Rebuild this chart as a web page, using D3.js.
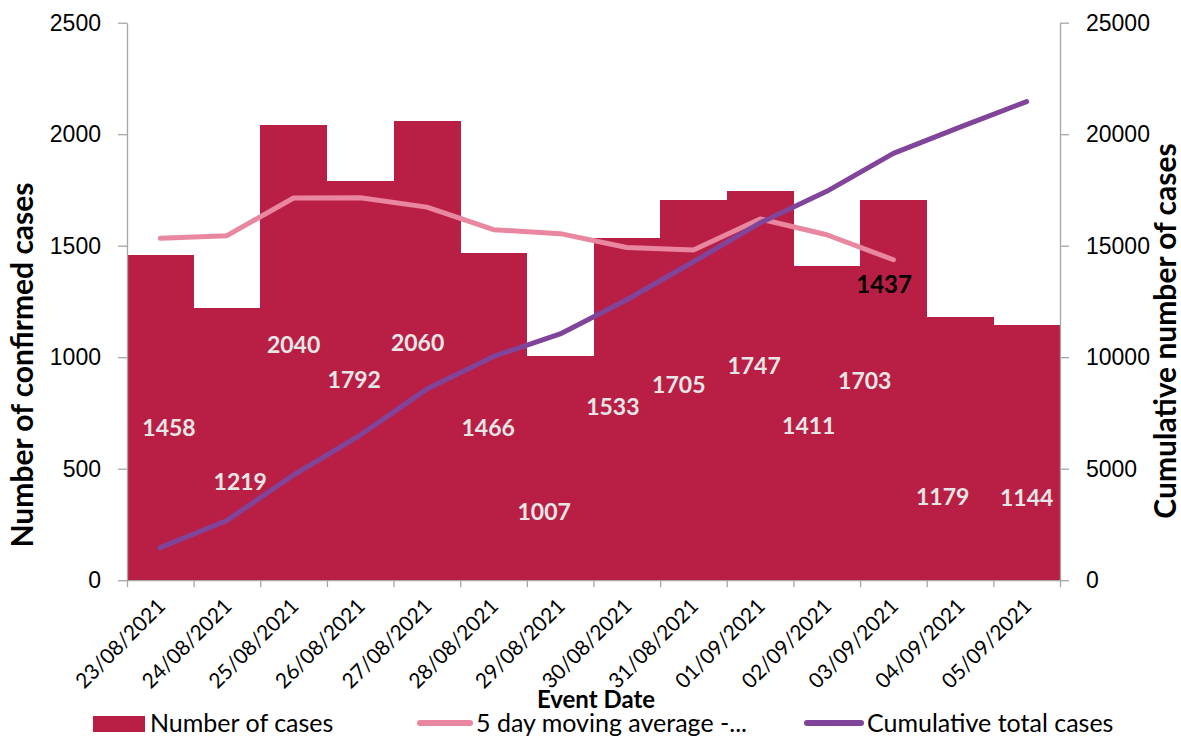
<!DOCTYPE html>
<html>
<head>
<meta charset="utf-8">
<script src="https://cdn.jsdelivr.net/npm/d3@7/dist/d3.min.js"></script>
<style>
  html, body { margin: 0; padding: 0; background: #fff; }
  svg { display: block; font-family: Lato, "Open Sans", sans-serif; }
  .axis path, .axis line { stroke: #a6a6a6; stroke-width: 1.3; }
  .axis text { fill: #000; font-size: 23px; }
</style>
</head>
<body>
<div id="chart"></div>
<script>
// categories and series
const dates = ['23/08/2021','24/08/2021','25/08/2021','26/08/2021','27/08/2021','28/08/2021','29/08/2021',
               '30/08/2021','31/08/2021','01/09/2021','02/09/2021','03/09/2021','04/09/2021','05/09/2021'];
const cases = [1458, 1219, 2040, 1792, 2060, 1466, 1007, 1533, 1705, 1747, 1411, 1703, 1179, 1144];
const movingAvg = [1533, 1545, 1714, 1715, 1673, 1572, 1554, 1492, 1481, 1620, 1549, 1437];
const cumulative = [1458, 2677, 4717, 6509, 8569, 10035, 11042, 12575, 14280, 16027, 17438, 19141, 20320, 21464];
const leftTicks = [0, 500, 1000, 1500, 2000, 2500];
const rightTicks = [0, 5000, 10000, 15000, 20000, 25000];

// where excel had the data labels dragged to (left axis units, fraction of band)
const labelLevel = [682, 440, 1055, 898, 1064, 682, 307, 777, 876, 961, 691, 893, 373, 368];
const labelShift = [0.13, 0.2, 0, -0.09, -0.14, -0.08, -0.24, -0.21, -0.22, -0.09, -0.27, -0.43, -0.26, 0];

// layout
const width = 1181, height = 739;
const margin = {t: 22.7, r: 121, b: 158.8, l: 127};
const w = width - margin.l - margin.r;
const h = height - margin.t - margin.b;

const colors = {bar: '#b91f45', avg: '#e8879f', cum: '#80449a', label: '#e6e6e6'};

const svg = d3.select('#chart').append('svg')
    .attr('width', width)
    .attr('height', height);

const plot = svg.append('g')
    .attr('transform', `translate(${margin.l},${margin.t})`);

// scales
const scaleX = d3.scaleBand().domain(dates).range([0, w]).padding(0);
const scaleIdx = d3.scaleLinear().domain([0, dates.length]).range([0, w]);
const scaleY = d3.scaleLinear().domain([0, 2500]).range([h, 0]);
const scaleY2 = d3.scaleLinear().domain([0, 25000]).range([h, 0]);
const cx = (d, i) => scaleX(dates[i]) + scaleX.bandwidth() / 2;

// bars (no gap, so crisp edges to avoid seams)
plot.selectAll('.bar')
    .data(cases)
    .enter()
    .append('rect')
    .attr('class', 'bar')
    .attr('x', (d, i) => scaleX(dates[i]))
    .attr('width', scaleX.bandwidth() + 0.5)
    .attr('y', d => scaleY(d))
    .attr('height', d => h - scaleY(d))
    .attr('shape-rendering', 'crispEdges')
    .style('fill', colors.bar);

// axes
const axisY = d3.axisLeft(scaleY).tickValues(leftTicks).tickSize(9).tickSizeOuter(0).tickPadding(17).tickFormat(d3.format('d'));
const axisY2 = d3.axisRight(scaleY2).tickValues(rightTicks).tickSize(9).tickSizeOuter(0).tickPadding(17).tickFormat(d3.format('d'));
const axisXTicks = d3.axisBottom(scaleIdx).tickValues(d3.range(dates.length + 1)).tickSize(7).tickSizeOuter(0).tickFormat('');

plot.append('g').attr('class', 'axis axis-x').attr('transform', `translate(0,${h})`).call(axisXTicks);
plot.append('g').attr('class', 'axis axis-y').call(axisY);
plot.append('g').attr('class', 'axis axis-y2').attr('transform', `translate(${w},0)`).call(axisY2);

// rotated date labels
plot.append('g')
    .selectAll('text')
    .data(dates)
    .enter()
    .append('text')
    .attr('transform', (d, i) => `translate(${cx(d, i) + 1},${h + 22}) rotate(-45)`)
    .attr('text-anchor', 'end')
    .attr('dy', '0.35em')
    .style('font-size', '21px')
    .text(d => d);

// lines
const lineAvg = d3.line()
    .x((d, i) => cx(d, i))
    .y(d => scaleY(d));
const lineCum = d3.line()
    .x((d, i) => cx(d, i))
    .y(d => scaleY2(d));

plot.append('path')
    .datum(movingAvg)
    .attr('d', lineAvg)
    .style('fill', 'none')
    .style('stroke', colors.avg)
    .style('stroke-width', 5)
    .style('stroke-linecap', 'round')
    .style('stroke-linejoin', 'round');

plot.append('path')
    .datum(cumulative)
    .attr('d', lineCum)
    .style('fill', 'none')
    .style('stroke', colors.cum)
    .style('stroke-width', 5)
    .style('stroke-linecap', 'round')
    .style('stroke-linejoin', 'round');

// data labels
plot.append('g')
    .selectAll('text')
    .data(cases)
    .enter()
    .append('text')
    .attr('x', (d, i) => cx(d, i) + labelShift[i] * scaleX.bandwidth())
    .attr('y', (d, i) => scaleY(labelLevel[i]))
    .attr('dy', '0.36em')
    .attr('text-anchor', 'middle')
    .style('font-size', '23px')
    .style('font-weight', 'bold')
    .style('fill', colors.label)
    .text(d => d);

// last moving average label
const lastAvg = movingAvg.length - 1;
plot.append('text')
    .attr('x', cx(null, lastAvg) - 0.14 * scaleX.bandwidth())
    .attr('y', scaleY(1328))
    .attr('dy', '0.36em')
    .attr('text-anchor', 'middle')
    .style('font-size', '24px')
    .style('font-weight', 'bold')
    .style('fill', '#000')
    .text(movingAvg[lastAvg]);

// axis titles
svg.append('text')
    .attr('transform', `translate(22,365) rotate(-90)`)
    .attr('text-anchor', 'middle')
    .attr('dy', '0.35em')
    .style('font-size', '30px')
    .style('font-weight', 'bold')
    .text('Number of confirmed cases');

svg.append('text')
    .attr('transform', `translate(1165,331) rotate(-90)`)
    .attr('text-anchor', 'middle')
    .attr('dy', '0.35em')
    .style('font-size', '30px')
    .style('font-weight', 'bold')
    .text('Cumulative number of cases');

svg.append('text')
    .attr('x', 596)
    .attr('y', 700)
    .attr('dy', '0.35em')
    .attr('text-anchor', 'middle')
    .style('font-size', '24px')
    .style('font-weight', 'bold')
    .text('Event Date');

// legend
const legend = svg.append('g').attr('transform', 'translate(0,723)');
legend.append('rect').attr('x', 93).attr('y', -7).attr('width', 52).attr('height', 16).style('fill', colors.bar);
legend.append('text').attr('x', 150).attr('dy', '0.35em').style('font-size', '25px').text('Number of cases');
legend.append('line').attr('x1', 420).attr('x2', 470).style('stroke', colors.avg).style('stroke-width', 6).style('stroke-linecap', 'round');
legend.append('text').attr('x', 476).attr('dy', '0.35em').style('font-size', '25px').text('5 day moving average -...');
legend.append('line').attr('x1', 807).attr('x2', 861).style('stroke', colors.cum).style('stroke-width', 6).style('stroke-linecap', 'round');
legend.append('text').attr('x', 867).attr('dy', '0.35em').style('font-size', '25px').text('Cumulative total cases');
</script>
</body>
</html>
